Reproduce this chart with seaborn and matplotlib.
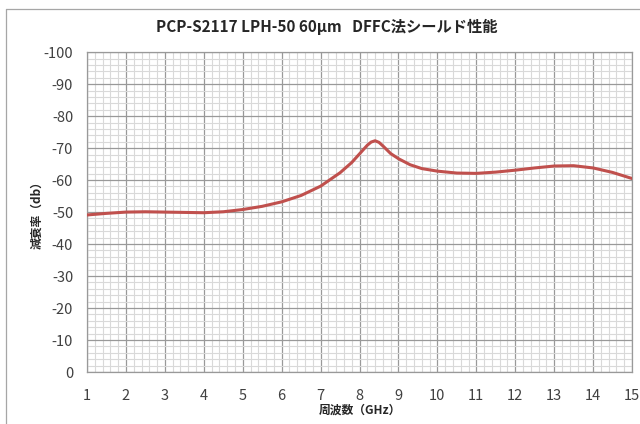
import matplotlib
matplotlib.use('Agg')
import matplotlib.pyplot as plt
import seaborn as sns
import pandas as pd
from matplotlib.ticker import MultipleLocator
from matplotlib.lines import Line2D

# Shielding performance
freq_ghz = [1.0, 1.5, 2.0, 2.5, 3.0, 3.5, 4.0, 4.5, 5.0, 5.5, 6.0, 6.5, 7.0, 7.5,
            7.8, 8.0, 8.2, 8.3, 8.4, 8.5, 8.6, 8.8, 9.0, 9.3, 9.6, 10.0, 10.5,
            11.0, 11.5, 12.0, 12.5, 13.0, 13.5, 14.0, 14.5, 15.0]
atten_db = [-49.1, -49.6, -50.0, -50.1, -50.0, -49.9, -49.8, -50.1, -50.8, -51.8,
            -53.2, -55.2, -58.1, -62.3, -65.5, -68.2, -70.9, -71.9, -72.3, -71.8,
            -70.7, -68.3, -66.7, -64.8, -63.6, -62.8, -62.2, -62.1, -62.5, -63.1,
            -63.8, -64.4, -64.5, -63.8, -62.4, -60.5]
x_ticks = list(range(1, 16))
y_ticks = list(range(0, -101, -10))

title = 'PCP-S2117 LPH-50 60µm   DFFC法シールド性能'
x_label = '周波数（GHz）'
y_label = '減衰率（db）'

sns.set_style('white')
plt.rcParams['font.family'] = ['Noto Sans CJK JP', 'DejaVu Sans']
plt.rcParams['axes.unicode_minus'] = False

df = pd.DataFrame({'freq': freq_ghz, 'atten': atten_db})

fig, ax = plt.subplots(figsize=(6.4, 4.24), dpi=100)
fig.subplots_adjust(left=0.136, right=0.9875, top=0.877, bottom=0.1226)

sns.lineplot(data=df, x='freq', y='atten', color='#C0504D', linewidth=2.2, ax=ax, zorder=5)

ax.set_xlim(1, 15)
ax.set_ylim(0, -100)
ax.set_xticks(x_ticks)
ax.set_yticks(y_ticks)
ax.xaxis.set_minor_locator(MultipleLocator(0.2))
ax.yaxis.set_minor_locator(MultipleLocator(2))
ax.grid(which='minor', color='#d9d9d9', linewidth=0.8)
ax.grid(which='major', color='#999999', linewidth=0.9)
ax.set_axisbelow(True)
ax.tick_params(which='both', length=0)
ax.tick_params(axis='x', pad=12, labelsize=10.5, colors='#404040')
ax.tick_params(axis='y', pad=10, labelsize=10.5, colors='#404040')
for s in ax.spines.values():
    s.set_color('#999999')
    s.set_linewidth(0.9)

ax.set_xlabel(x_label, fontsize=8.5, fontweight='bold', labelpad=1)
ax.set_ylabel(y_label, fontsize=8.5, fontweight='bold', labelpad=0)
fig.suptitle(title, fontsize=11, fontweight='bold', x=0.51, y=0.955)

# outer chart border (left and top visible)
fig.add_artist(Line2D([6/640, 6/640], [0, 1 - 9/424], color='#a6a6a6', linewidth=0.9))
fig.add_artist(Line2D([6/640, 1], [1 - 9/424, 1 - 9/424], color='#a6a6a6', linewidth=0.9))

plt.savefig('out.png', dpi=100)
plt.close()
